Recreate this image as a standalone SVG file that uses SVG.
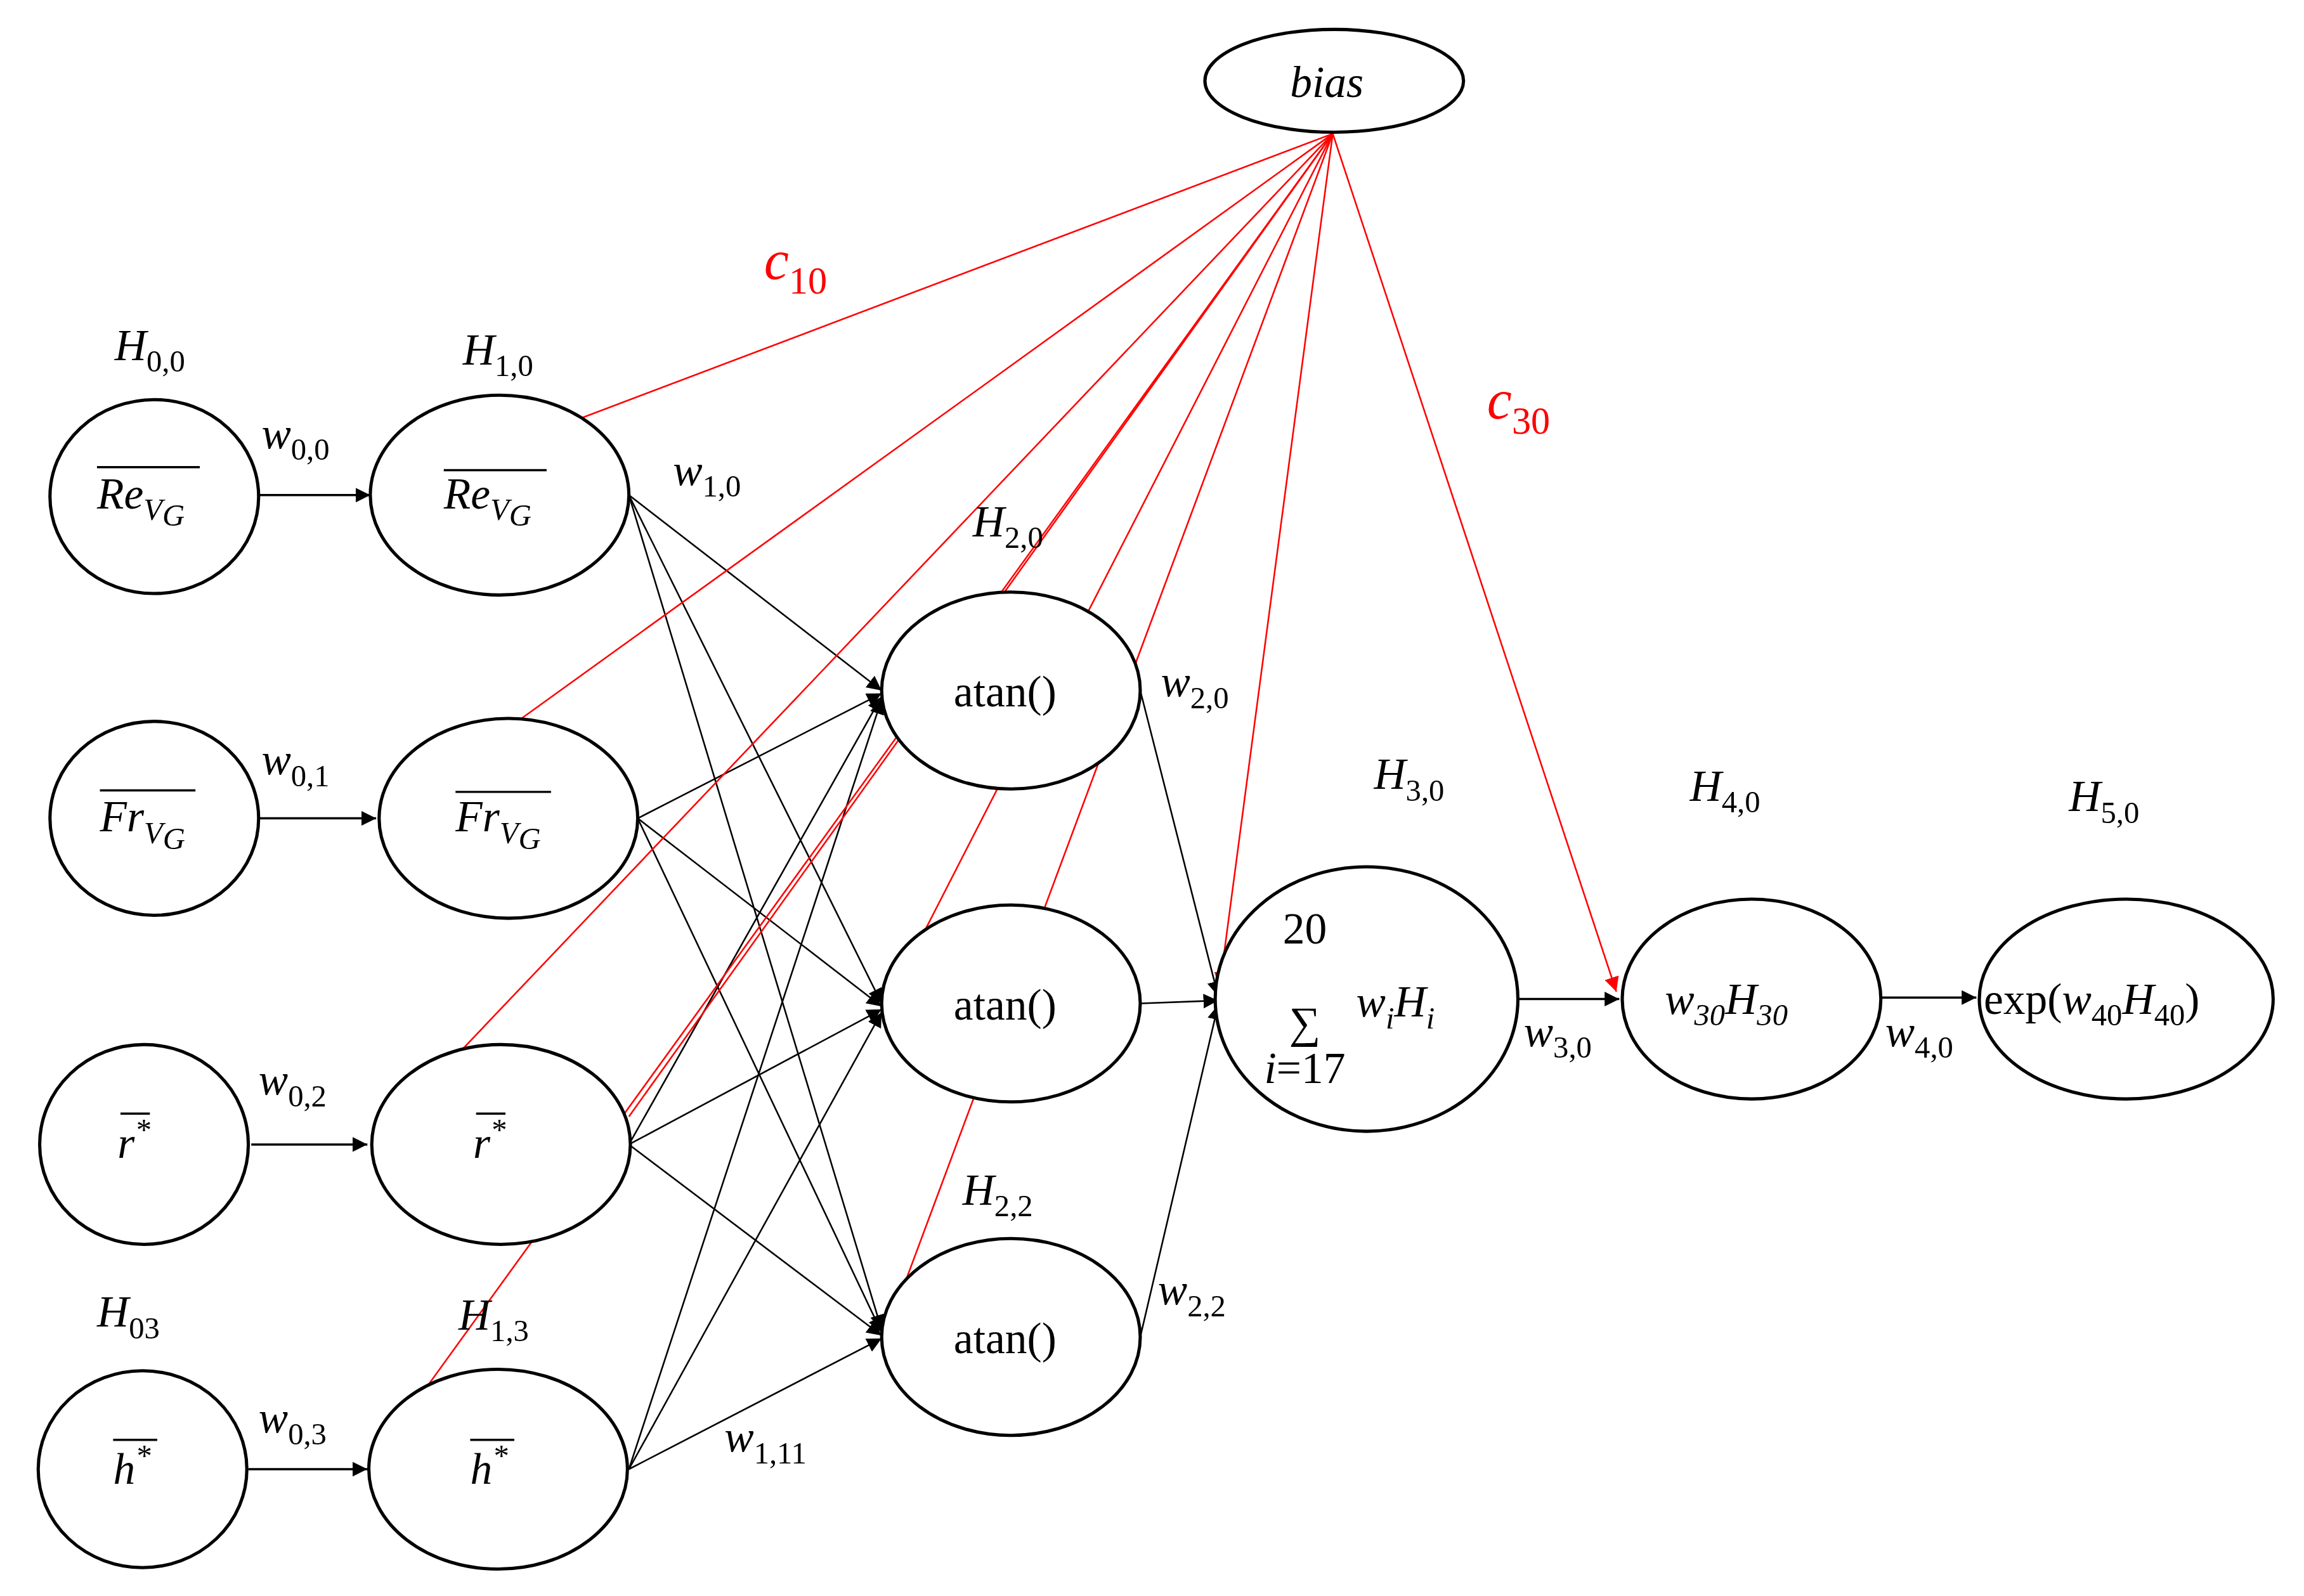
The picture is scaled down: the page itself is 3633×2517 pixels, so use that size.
<svg xmlns="http://www.w3.org/2000/svg" width="3633" height="2517" viewBox="0 0 3633 2517">
<defs>
<marker id="ab" viewBox="0 0 10 10" refX="10" refY="5" markerWidth="10" markerHeight="10" markerUnits="userSpaceOnUse" orient="auto"><path d="M0,0L10,5L0,10z" fill="#000"/></marker>
<marker id="ar" viewBox="0 0 10 10" refX="10" refY="5" markerWidth="10" markerHeight="10" markerUnits="userSpaceOnUse" orient="auto"><path d="M0,0L10,5L0,10z" fill="#f00"/></marker>
<style>
.n{fill:#fff;stroke:#000;stroke-width:2.2}
.k{stroke:#000;stroke-width:1.1;fill:none}
.kh{stroke:#000;stroke-width:1.5;fill:none}
.r{stroke:#f00;stroke-width:1.1;fill:none}
.t{font-family:"Liberation Serif",serif;font-style:italic;font-size:30px;fill:#000}
.u{font-family:"Liberation Serif",serif;font-size:30px;fill:#000}
.s{font-size:21px}
.c{font-family:"Liberation Serif",serif;font-style:italic;font-size:38px;fill:#f00}
.ol{stroke:#000;stroke-width:1.5}
</style>
</defs>
<rect width="3633" height="2517" fill="#fff"/>
<g transform="scale(2.317)">
<g id="connectors">
<line class="kh" x1="176" y1="337" x2="252" y2="337" marker-end="url(#ab)"/>
<line class="kh" x1="176" y1="557" x2="256" y2="557" marker-end="url(#ab)"/>
<line class="kh" x1="171" y1="779" x2="250" y2="779" marker-end="url(#ab)"/>
<line class="kh" x1="169" y1="1000" x2="250" y2="1000" marker-end="url(#ab)"/>
<g class="k">
<line x1="428" y1="337" x2="600" y2="470" marker-end="url(#ab)"/>
<line x1="428" y1="337" x2="600" y2="683" marker-end="url(#ab)"/>
<line x1="428" y1="337" x2="600" y2="905" marker-end="url(#ab)"/>
<line x1="434" y1="557" x2="600" y2="472" marker-end="url(#ab)"/>
<line x1="434" y1="557" x2="600" y2="685" marker-end="url(#ab)"/>
<line x1="434" y1="557" x2="600" y2="907" marker-end="url(#ab)"/>
<line x1="428" y1="779" x2="600" y2="474" marker-end="url(#ab)"/>
<line x1="428" y1="779" x2="600" y2="687" marker-end="url(#ab)"/>
<line x1="428" y1="779" x2="600" y2="909" marker-end="url(#ab)"/>
<line x1="428" y1="1000" x2="600" y2="476" marker-end="url(#ab)"/>
<line x1="428" y1="1000" x2="600" y2="689" marker-end="url(#ab)"/>
<line x1="428" y1="1000" x2="600" y2="911" marker-end="url(#ab)"/>
<line x1="776" y1="470" x2="829" y2="678" marker-end="url(#ab)"/>
<line x1="776" y1="683" x2="829" y2="681" marker-end="url(#ab)"/>
<line x1="776" y1="910" x2="829" y2="684" marker-end="url(#ab)"/>
</g>
<line class="kh" x1="1034" y1="680" x2="1102" y2="680" marker-end="url(#ab)"/>
<line class="kh" x1="1280" y1="679" x2="1345" y2="679" marker-end="url(#ab)"/>
<g class="r">
<line x1="907" y1="91" x2="257" y2="337" marker-end="url(#ar)"/>
<line x1="907" y1="91" x2="262" y2="556" marker-end="url(#ar)"/>
<line x1="907" y1="91" x2="255" y2="777" marker-end="url(#ar)"/>
<line x1="907" y1="91" x2="250" y2="1000" marker-end="url(#ar)"/>
<line x1="907" y1="91" x2="604" y2="683" marker-end="url(#ar)"/>
<line x1="907" y1="91" x2="604" y2="905" marker-end="url(#ar)"/>
<line x1="907" y1="91" x2="830" y2="672" marker-end="url(#ar)"/>
<line x1="907" y1="91" x2="1100" y2="675" marker-end="url(#ar)"/>
<line x1="907" y1="91" x2="428" y2="760"/>
</g>
</g>
<g id="bias"><ellipse class="n" cx="908" cy="55" rx="88" ry="35"/><text class="t" x="903" y="66" text-anchor="middle">bias</text></g>
<g id="in0"><ellipse class="n" cx="105" cy="338" rx="71" ry="66"/><line class="ol" x1="66" y1="318" x2="136" y2="318"/><text class="t" x="66" y="346">Re<tspan class="s" dy="8">V</tspan><tspan class="s" dy="4">G</tspan></text></g>
<g id="in1"><ellipse class="n" cx="105" cy="557" rx="71" ry="66"/><line class="ol" x1="68" y1="538" x2="133" y2="538"/><text class="t" x="68" y="566">Fr<tspan class="s" dy="8">V</tspan><tspan class="s" dy="4">G</tspan></text></g>
<g id="in2"><ellipse class="n" cx="98" cy="779" rx="71" ry="68"/><line class="ol" x1="82" y1="758" x2="102" y2="758"/><text class="t" x="80" y="788">r<tspan class="s" dy="-12">*</tspan></text></g>
<g id="in3"><ellipse class="n" cx="97" cy="1000" rx="71" ry="67"/><line class="ol" x1="77" y1="980" x2="107" y2="980"/><text class="t" x="77" y="1010">h<tspan class="s" dy="-12">*</tspan></text></g>
<g id="h10"><ellipse class="n" cx="340" cy="337" rx="88" ry="68"/><line class="ol" x1="302" y1="320" x2="372" y2="320"/><text class="t" x="302" y="346">Re<tspan class="s" dy="8">V</tspan><tspan class="s" dy="4">G</tspan></text></g>
<g id="h11"><ellipse class="n" cx="346" cy="557" rx="88" ry="68"/><line class="ol" x1="310" y1="539" x2="375" y2="539"/><text class="t" x="310" y="566">Fr<tspan class="s" dy="8">V</tspan><tspan class="s" dy="4">G</tspan></text></g>
<g id="h12"><ellipse class="n" cx="341" cy="779" rx="88" ry="68"/><line class="ol" x1="324" y1="758" x2="344" y2="758"/><text class="t" x="322" y="788">r<tspan class="s" dy="-12">*</tspan></text></g>
<g id="h13"><ellipse class="n" cx="339" cy="1000" rx="88" ry="68"/><line class="ol" x1="320" y1="980" x2="350" y2="980"/><text class="t" x="320" y="1010">h<tspan class="s" dy="-12">*</tspan></text></g>
<g id="a0"><ellipse class="n" cx="688" cy="470" rx="88" ry="67"/><text class="u" x="684" y="481" text-anchor="middle">atan()</text></g>
<g id="a1"><ellipse class="n" cx="688" cy="683" rx="88" ry="67"/><text class="u" x="684" y="694" text-anchor="middle">atan()</text></g>
<g id="a2"><ellipse class="n" cx="688" cy="910" rx="88" ry="67"/><text class="u" x="684" y="921" text-anchor="middle">atan()</text></g>
<g id="sum"><ellipse class="n" cx="930" cy="680" rx="103" ry="90"/><text class="u" x="888" y="642" text-anchor="middle" font-size="20">20</text><text class="u" x="888" y="706" text-anchor="middle" font-size="70">∑</text><text class="t" x="888" y="737" text-anchor="middle" font-size="20">i<tspan font-style="normal">=17</tspan></text><text class="t" x="923" y="692">w<tspan class="s" dy="8">i</tspan><tspan dy="-8">H</tspan><tspan class="s" dy="8">i</tspan></text></g>
<g id="h40"><ellipse class="n" cx="1192" cy="680" rx="88" ry="68"/><text class="t" x="1133" y="690">w<tspan class="s" dy="8">30</tspan><tspan dy="-8">H</tspan><tspan class="s" dy="8">30</tspan></text></g>
<g id="h50"><ellipse class="n" cx="1447" cy="680" rx="100" ry="68"/><text class="u" x="1350" y="690">exp(<tspan font-style="italic">w</tspan><tspan class="s" dy="8">40</tspan><tspan font-style="italic" dy="-8">H</tspan><tspan class="s" dy="8">40</tspan><tspan dy="-8">)</tspan></text></g>
<g id="labels">
<text class="t" x="78" y="245">H<tspan class="s" dy="8" font-style="normal">0,0</tspan></text>
<text class="t" x="315" y="248">H<tspan class="s" dy="8" font-style="normal">1,0</tspan></text>
<text class="t" x="662" y="365">H<tspan class="s" dy="8" font-style="normal">2,0</tspan></text>
<text class="t" x="655" y="820">H<tspan class="s" dy="8" font-style="normal">2,2</tspan></text>
<text class="t" x="312" y="905">H<tspan class="s" dy="8" font-style="normal">1,3</tspan></text>
<text class="t" x="66" y="903">H<tspan class="s" dy="8" font-style="normal">03</tspan></text>
<text class="t" x="935" y="537">H<tspan class="s" dy="8" font-style="normal">3,0</tspan></text>
<text class="t" x="1150" y="545">H<tspan class="s" dy="8" font-style="normal">4,0</tspan></text>
<text class="t" x="1408" y="552">H<tspan class="s" dy="8" font-style="normal">5,0</tspan></text>
<text class="t" x="178" y="305">w<tspan class="s" dy="8" font-style="normal">0,0</tspan></text>
<text class="t" x="178" y="527">w<tspan class="s" dy="8" font-style="normal">0,1</tspan></text>
<text class="t" x="176" y="745">w<tspan class="s" dy="8" font-style="normal">0,2</tspan></text>
<text class="t" x="176" y="975">w<tspan class="s" dy="8" font-style="normal">0,3</tspan></text>
<text class="t" x="458" y="330">w<tspan class="s" dy="8" font-style="normal">1,0</tspan></text>
<text class="t" x="790" y="474">w<tspan class="s" dy="8" font-style="normal">2,0</tspan></text>
<text class="t" x="788" y="888">w<tspan class="s" dy="8" font-style="normal">2,2</tspan></text>
<text class="t" x="493" y="988">w<tspan class="s" dy="8" font-style="normal">1,11</tspan></text>
<text class="t" x="1037" y="712">w<tspan class="s" dy="8" font-style="normal">3,0</tspan></text>
<text class="t" x="1283" y="712">w<tspan class="s" dy="8" font-style="normal">4,0</tspan></text>
<text class="c" x="520" y="190">c<tspan font-size="26" dy="10" font-style="normal">10</tspan></text>
<text class="c" x="1012" y="285">c<tspan font-size="26" dy="10" font-style="normal">30</tspan></text>
</g>
</g>
</svg>
